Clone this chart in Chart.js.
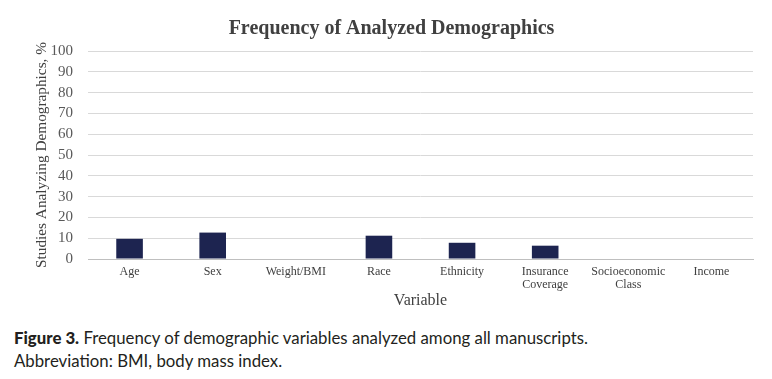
<!DOCTYPE html>
<html>
<head>
<meta charset="utf-8">
<script src="https://cdn.jsdelivr.net/npm/chart.js@4"></script>
<style>
  html, body { margin: 0; padding: 0; background: #fff; }
  #wrap { position: relative; width: 772px; height: 379px; overflow: hidden; }
  #box { position: absolute; left: 0; top: 0; width: 772px; height: 318px; }
  #cap { position: absolute; left: 14px; top: 326px; font-family: Lato, "Open Sans", sans-serif; font-size: 16.8px; line-height: 23px; color: #231f20; }
  #cap b { font-weight: 900; }
</style>
</head>
<body>
<div id="wrap">
  <div id="box"><canvas id="c"></canvas></div>
  <div id="cap"><b>Figure 3.</b> Frequency of demographic variables analyzed among all manuscripts.<br>Abbreviation: BMI, body mass index.</div>
</div>
<script>
const categories = ["Age", "Sex", "Weight/BMI", "Race", "Ethnicity", ["Insurance", "Coverage"], ["Socioeconomic", "Class"], "Income"];
const values = [9.7, 12.7, 0, 11.2, 7.8, 6.4, 0, 0];
const yTicks = [0, 10, 20, 30, 40, 50, 60, 70, 80, 90, 100];

new Chart(document.getElementById('c'), {
  type: 'bar',
  data: {
    labels: categories,
    datasets: [{
      data: values,
      backgroundColor: '#1d2450',
      borderWidth: 0,
      categoryPercentage: 1,
      barPercentage: 0.32
    }]
  },
  options: {
    responsive: true,
    maintainAspectRatio: false,
    animation: false,
    layout: { padding: { left: 30, right: 19, top: 0, bottom: 0 } },
    plugins: {
      legend: { display: false },
      tooltip: { enabled: false },
      title: {
        display: true,
        text: 'Frequency of Analyzed Demographics',
        color: '#404040',
        font: { family: '"Liberation Serif", serif', size: 20, weight: 'bold' },
        padding: { top: 17, bottom: 10 }
      }
    },
    scales: {
      y: {
        min: 0, max: 100,
        afterBuildTicks: (s) => { s.ticks = yTicks.map(v => ({ value: v })); },
        ticks: {
          color: '#595959',
          padding: 15,
          autoSkip: false,
          font: { family: '"Liberation Serif", serif', size: 15 }
        },
        grid: { color: '#d9d9d9', lineWidth: 1, drawTicks: false },
        border: { display: false },
        title: {
          display: true,
          text: 'Studies Analyzing Demographics, %',
          color: '#404040',
          font: { family: '"Liberation Serif", serif', size: 15.3 },
          padding: { top: 3, bottom: 2 }
        },
        afterFit: (s) => { s.width = 58; }
      },
      x: {
        ticks: {
          color: '#404040',
          padding: 6,
          maxRotation: 0,
          autoSkip: false,
          font: { family: '"Liberation Serif", serif', size: 12, lineHeight: 1.1 }
        },
        grid: { display: false, drawTicks: false },
        border: { display: true, color: '#bfbfbf', width: 1 },
        title: {
          display: true,
          text: 'Variable',
          color: '#404040',
          font: { family: '"Liberation Serif", serif', size: 16 },
          padding: { top: 0, bottom: 8 }
        },
        afterFit: (s) => { s.height = 59; }
      }
    }
  }
});
</script>
</body>
</html>
